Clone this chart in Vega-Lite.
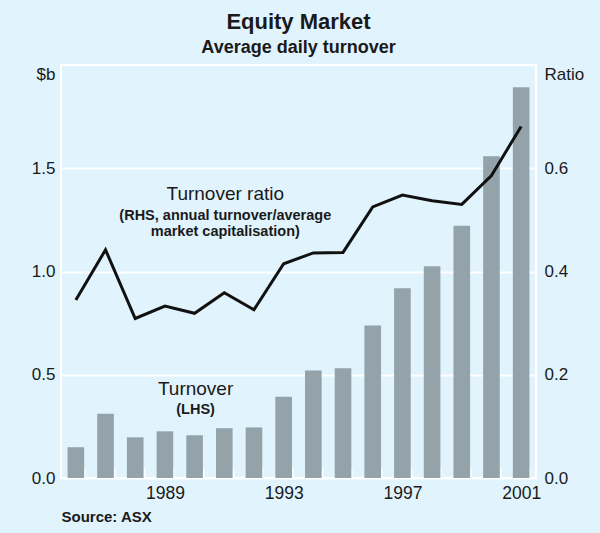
{
  "$schema": "https://vega.github.io/schema/vega-lite/v6.json",
  "width": 475,
  "height": 413,
  "autosize": {"type": "none"},
  "padding": {"left": 61, "top": 65, "right": 64, "bottom": 55},
  "background": "#e1f3fd",
  "config": {
    "view": {"stroke": "#ffffff", "strokeWidth": 2},
    "font": "Liberation Sans",
    "axis": {"labelFont": "Liberation Sans", "titleFont": "Liberation Sans", "labelColor": "#1a1a1a", "titleColor": "#1a1a1a"}
  },
  "title": {
    "text": "Equity Market",
    "subtitle": "Average daily turnover",
    "fontSize": 22,
    "fontWeight": "bold",
    "subtitleFontSize": 18,
    "subtitleFontWeight": "bold",
    "color": "#1a1a1a",
    "subtitleColor": "#1a1a1a",
    "font": "Liberation Sans",
    "subtitleFont": "Liberation Sans",
    "anchor": "middle",
    "offset": 7,
    "subtitlePadding": 5
  },
  "data": {
    "values": [
      {"year": 1986, "turnover": 0.149, "ratio": 0.345},
      {"year": 1987, "turnover": 0.311, "ratio": 0.442},
      {"year": 1988, "turnover": 0.197, "ratio": 0.309},
      {"year": 1989, "turnover": 0.226, "ratio": 0.333},
      {"year": 1990, "turnover": 0.207, "ratio": 0.319},
      {"year": 1991, "turnover": 0.241, "ratio": 0.359},
      {"year": 1992, "turnover": 0.245, "ratio": 0.326},
      {"year": 1993, "turnover": 0.394, "ratio": 0.415},
      {"year": 1994, "turnover": 0.52, "ratio": 0.436},
      {"year": 1995, "turnover": 0.531, "ratio": 0.437},
      {"year": 1996, "turnover": 0.739, "ratio": 0.525},
      {"year": 1997, "turnover": 0.919, "ratio": 0.548},
      {"year": 1998, "turnover": 1.026, "ratio": 0.537},
      {"year": 1999, "turnover": 1.222, "ratio": 0.53},
      {"year": 2000, "turnover": 1.558, "ratio": 0.586},
      {"year": 2001, "turnover": 1.892, "ratio": 0.681}
    ]
  },
  "resolve": {"scale": {"y": "independent"}},
  "layer": [
    {
      "layer": [
        {
          "mark": {"type": "bar", "color": "#94a2a9"},
          "encoding": {
            "x": {
              "field": "year",
              "type": "ordinal",
              "scale": {"paddingInner": 0.44, "paddingOuter": 0.22},
              "axis": {
                "title": "Source: ASX",
                "titleFontSize": 15,
                "titleFontWeight": "bold",
                "titleAnchor": "start",
                "titleAlign": "left",
                "titleBaseline": "middle",
                "titleX": 0,
                "titleY": 38,
                "labelAngle": 0,
                "labelExpr": "indexof(['1989','1993','1997','2001'], datum.label) >= 0 ? datum.label : ''",
                "labelFontSize": 17.5,
                "labelPadding": 16,
                "domain": false,
                "ticks": true,
                "tickBand": "extent",
                "tickSize": -10,
                "tickColor": "#ffffff",
                "tickWidth": 2,
                "grid": false
              }
            },
            "y": {
              "field": "turnover",
              "type": "quantitative",
              "scale": {"domain": [0, 2]},
              "axis": {
                "title": "$b",
                "titleAngle": 0,
                "titleAlign": "right",
                "titleBaseline": "middle",
                "titleX": -6,
                "titleY": 9,
                "titleFontSize": 17,
                "titleFontWeight": "normal",
                "values": [0, 0.5, 1, 1.5],
                "format": ".1f",
                "labelFontSize": 17,
                "labelPadding": 6,
                "ticks": false,
                "domain": false,
                "grid": true,
                "gridColor": "#ffffff",
                "gridWidth": 2,
                "gridOpacity": 1
              }
            }
          }
        },
        {
          "data": {
            "values": [
              {"year": 1991, "turnover": 1.347, "label": "Turnover ratio"},
              {"year": 1990, "turnover": 0.403, "label": "Turnover"}
            ]
          },
          "mark": {"type": "text", "fontSize": 19, "font": "Liberation Sans", "color": "#1a1a1a", "baseline": "alphabetic", "align": "center", "dx": 1},
          "encoding": {
            "x": {"field": "year", "type": "ordinal"},
            "y": {"field": "turnover", "type": "quantitative", "scale": {"domain": [0, 2]}},
            "text": {"field": "label"}
          }
        },
        {
          "data": {
            "values": [
              {"year": 1991, "turnover": 1.25, "label": "(RHS, annual turnover/average"},
              {"year": 1991, "turnover": 1.171, "label": "market capitalisation)"},
              {"year": 1990, "turnover": 0.311, "label": "(LHS)"}
            ]
          },
          "mark": {"type": "text", "fontSize": 14.5, "fontWeight": "bold", "font": "Liberation Sans", "color": "#1a1a1a", "baseline": "alphabetic", "align": "center", "dx": 1},
          "encoding": {
            "x": {"field": "year", "type": "ordinal"},
            "y": {"field": "turnover", "type": "quantitative", "scale": {"domain": [0, 2]}},
            "text": {"field": "label"}
          }
        }
      ]
    },
    {
      "mark": {"type": "line", "color": "#111111", "strokeWidth": 3},
      "encoding": {
        "x": {"field": "year", "type": "ordinal"},
        "y": {
          "field": "ratio",
          "type": "quantitative",
          "scale": {"domain": [0, 0.8]},
          "axis": {
            "orient": "right",
            "title": "Ratio",
            "titleAngle": 0,
            "titleAlign": "left",
            "titleBaseline": "middle",
            "titleX": 8,
            "titleY": 9,
            "titleFontSize": 17,
            "titleFontWeight": "normal",
            "values": [0, 0.2, 0.4, 0.6],
            "format": ".1f",
            "labelFontSize": 17,
            "labelPadding": 8,
            "ticks": false,
            "domain": false,
            "grid": false
          }
        }
      }
    }
  ]
}
